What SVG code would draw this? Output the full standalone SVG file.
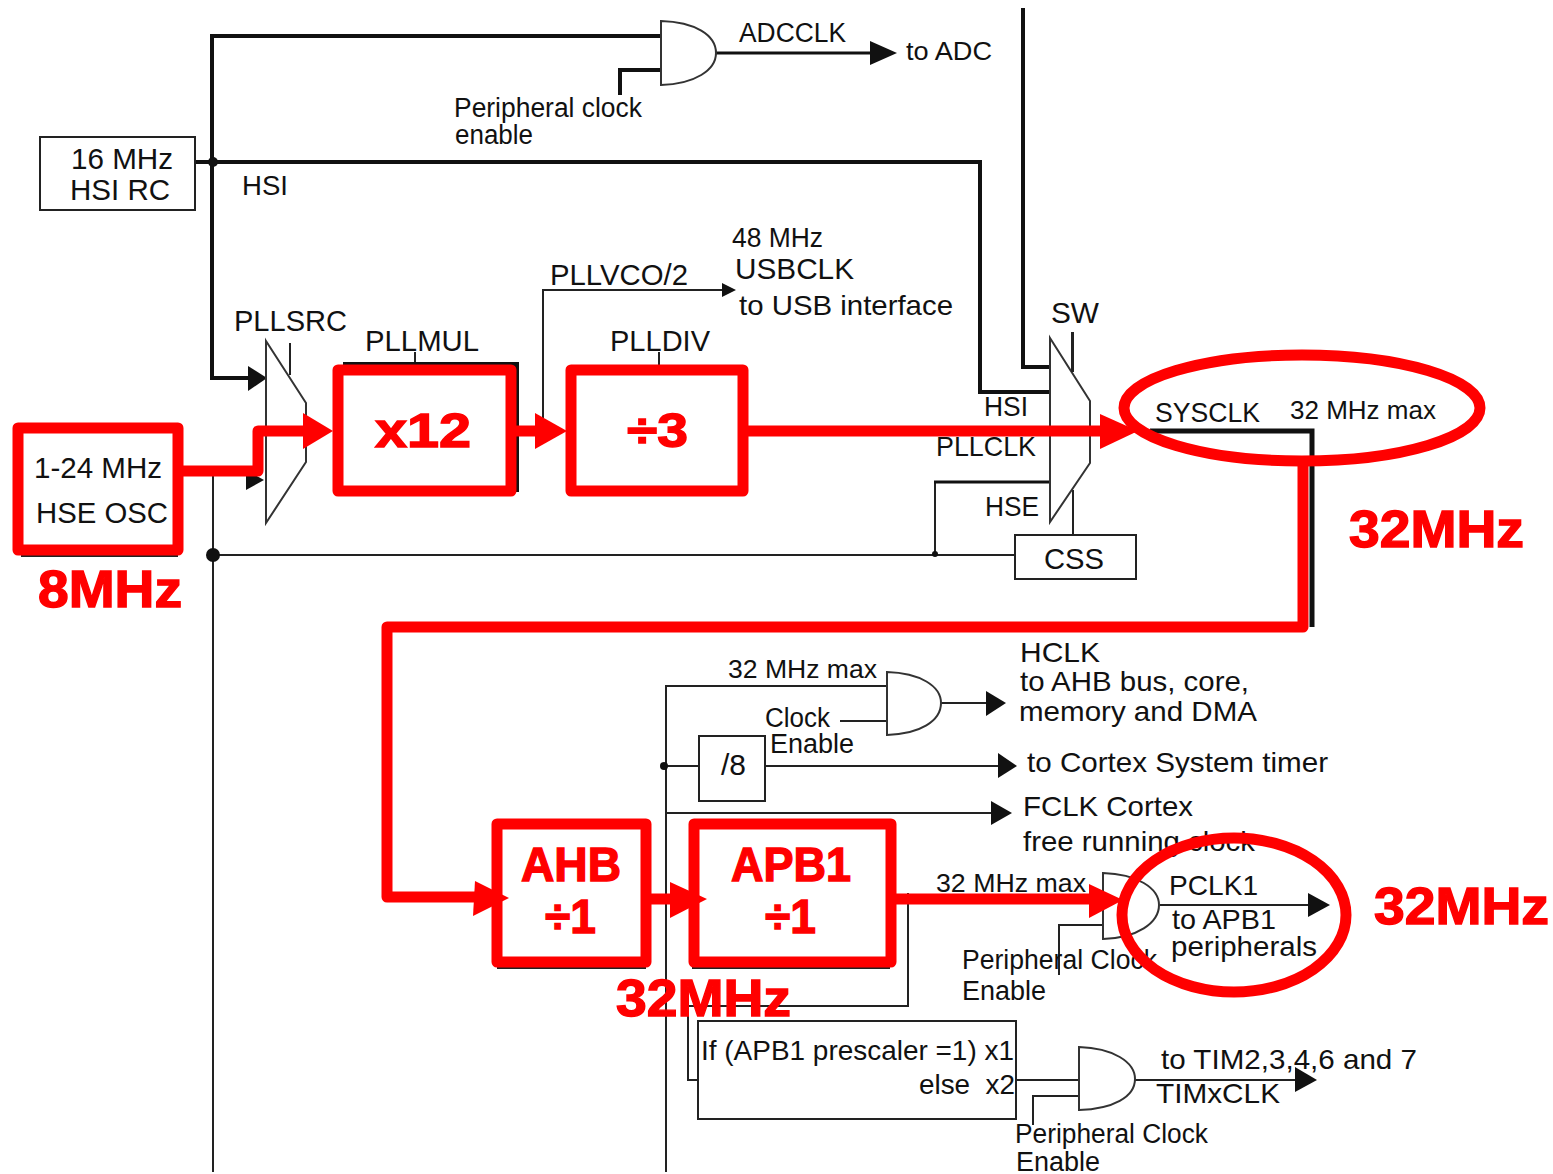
<svg xmlns="http://www.w3.org/2000/svg" width="1553" height="1174" viewBox="0 0 1553 1174">
<style>
text{font-family:"Liberation Sans",Arial,sans-serif;fill:#111;font-size:28px;white-space:pre}
.r{fill:#f00;font-weight:bold;font-size:52px;stroke:#f00;stroke-width:1.4}
.b{fill:#f00;font-weight:bold;font-size:48px;stroke:#f00;stroke-width:1.4}
.t{fill:none;stroke:#222;stroke-width:2}
.k{fill:none;stroke:#111;stroke-width:4}
.g{fill:#fff;stroke:#333;stroke-width:2}
.rl{fill:none;stroke:#f00;stroke-width:11;stroke-linejoin:round}
.rb{fill:#fff;stroke:#f00;stroke-width:11;stroke-linejoin:round}
.rh{fill:#f00}
.h{fill:#111}
</style>
<rect width="1553" height="1174" fill="#fff"/>
<g id="connectors">
<path class="k" d="M660 36H212V378H250"/>
<path class="k" d="M620 95V70H661"/>
<path class="k" d="M716 53H872" style="stroke-width:3"/>
<path class="k" d="M195 162H980V392H1051"/>
<path class="k" d="M1023 8V367H1052"/>
<path class="t" d="M213 470V1172"/>
<path class="t" d="M213 555H1015"/>
<path class="t" d="M935 554V482"/>
<path class="k" d="M934 482H1051" style="stroke-width:3"/>
<path class="t" d="M290 343V375"/>
<path class="t" d="M1073 332V372M1073 490V535"/>
<path class="k" d="M1150 431H1312V627" style="stroke-width:5"/>
<path class="t" d="M543 420V290H724"/>
<path class="t" d="M415 352V366M659 352V366"/>
<path class="k" d="M343 364H517V492"/>
<path class="t" d="M21 556H178"/>
<path class="t" d="M497 968H646M692 968H890"/>
<path class="t" d="M666 1172V686H887"/>
<path class="t" d="M941 703H988"/>
<path class="t" d="M840 721H887"/>
<path class="t" d="M664 766H699M765 766H1000"/>
<path class="t" d="M667 813H993"/>
<path class="t" d="M1160 905H1310"/>
<path class="t" d="M1059 975V925H1105"/>
<path class="t" d="M908 893V1006H688V1080H698"/>
<path class="t" d="M1016 1080H1080M1080 1096H1033V1125"/>
<path class="t" d="M1135 1080H1297"/>
<g id="black-arrowheads">
<path class="h" d="M248 366L267 378L248 391Z"/>
<path class="h" d="M246 470L264 480L246 490Z"/>
<path class="h" d="M870 41L897 53L870 65Z"/>
<path class="h" d="M722 283L736 290L722 297Z"/>
<path class="h" d="M986 691L1006 703L986 716Z"/>
<path class="h" d="M998 753L1017 766L998 778Z"/>
<path class="h" d="M991 801L1012 813L991 825Z"/>
<path class="h" d="M1308 893L1330 905L1308 917Z"/>
<path class="h" d="M1295 1067L1317 1080L1295 1092Z"/>
</g>
<circle class="h" cx="213" cy="162" r="5"/>
<circle class="h" cx="213" cy="555" r="7"/>
<circle class="h" cx="935" cy="554" r="3"/>
<circle class="h" cx="664" cy="766" r="4"/>
</g>
<g id="and-adc"><path class="g" d="M661 21C695 22 716 35 716 53C716 70 695 84 661 85Z"/>
<text x="739" y="42" textLength="107" lengthAdjust="spacingAndGlyphs" style="font-size:27px">ADCCLK</text>
<text x="906" y="60" textLength="86" lengthAdjust="spacingAndGlyphs" style="font-size:26px">to ADC</text>
<text x="454" y="117" textLength="188" lengthAdjust="spacingAndGlyphs" style="font-size:27px">Peripheral clock</text>
<text x="455" y="144" textLength="78" lengthAdjust="spacingAndGlyphs" style="font-size:27px">enable</text></g>
<g id="hsi-rc"><rect x="40" y="137" width="155" height="73" class="t"/>
<text x="71" y="169" textLength="102" lengthAdjust="spacingAndGlyphs" style="font-size:30px">16 MHz</text>
<text x="70" y="200" textLength="100" lengthAdjust="spacingAndGlyphs" style="font-size:30px">HSI RC</text>
<text x="242" y="195" textLength="46" lengthAdjust="spacingAndGlyphs" style="font-size:27px">HSI</text></g>
<g id="usb-labels">
<text x="732" y="247" textLength="91" lengthAdjust="spacingAndGlyphs" style="font-size:27px">48 MHz</text>
<text x="735" y="279" textLength="119" lengthAdjust="spacingAndGlyphs" style="font-size:30px">USBCLK</text>
<text x="739" y="315" textLength="214" lengthAdjust="spacingAndGlyphs">to USB interface</text>
<text x="550" y="285" textLength="138" lengthAdjust="spacingAndGlyphs" style="font-size:29px">PLLVCO/2</text></g>
<g id="pllsrc"><path class="g" d="M266 341L306 403V462L266 523Z"/>
<text x="234" y="331" textLength="113" lengthAdjust="spacingAndGlyphs" style="font-size:30px">PLLSRC</text></g>
<g id="sw"><path class="g" d="M1050 338L1090 401V463L1050 522Z"/>
<path class="t" d="M1072 332V372"/>
<text x="1051" y="323" textLength="48" lengthAdjust="spacingAndGlyphs" style="font-size:30px">SW</text>
<text x="984" y="416" textLength="44" lengthAdjust="spacingAndGlyphs" style="font-size:27px">HSI</text>
<text x="936" y="456" textLength="100" lengthAdjust="spacingAndGlyphs">PLLCLK</text>
<text x="985" y="516" textLength="54" lengthAdjust="spacingAndGlyphs" style="font-size:27px">HSE</text></g>
<g id="css"><rect x="1015" y="535" width="121" height="44" class="t"/>
<text x="1044" y="569" textLength="60" lengthAdjust="spacingAndGlyphs" style="font-size:30px">CSS</text></g>
<g id="hclk-gate"><path class="g" d="M887 672C920 673 941 686 941 703C941 721 920 734 887 735Z"/>
<text x="728" y="678" textLength="149" lengthAdjust="spacingAndGlyphs" style="font-size:26px">32 MHz max</text>
<text x="765" y="727" textLength="65" lengthAdjust="spacingAndGlyphs" style="font-size:27px">Clock</text>
<text x="770" y="753" textLength="84" lengthAdjust="spacingAndGlyphs" style="font-size:27px">Enable</text>
<text x="1020" y="662" textLength="80" lengthAdjust="spacingAndGlyphs">HCLK</text>
<text x="1020" y="691" textLength="229" lengthAdjust="spacingAndGlyphs">to AHB bus, core,</text>
<text x="1019" y="721" textLength="238" lengthAdjust="spacingAndGlyphs">memory and DMA</text></g>
<g id="div8"><rect x="699" y="736" width="66" height="65" class="t"/>
<text x="721" y="775" textLength="25" lengthAdjust="spacingAndGlyphs" style="font-size:29px">/8</text>
<text x="1027" y="772" textLength="301" lengthAdjust="spacingAndGlyphs">to Cortex System timer</text></g>
<g id="fclk">
<text x="1023" y="816" textLength="170" lengthAdjust="spacingAndGlyphs">FCLK Cortex</text>
<text x="1023" y="851" textLength="232" lengthAdjust="spacingAndGlyphs">free running clock</text></g>
<g id="pclk1-gate"><path class="g" d="M1103 873C1137 874 1159 888 1159 905C1159 923 1137 938 1103 939Z"/>
<text x="936" y="892" textLength="150" lengthAdjust="spacingAndGlyphs" style="font-size:26px">32 MHz max</text>
<text x="1169" y="895" textLength="89" lengthAdjust="spacingAndGlyphs">PCLK1</text>
<text x="1172" y="929" textLength="104" lengthAdjust="spacingAndGlyphs">to APB1</text>
<text x="1171" y="956" textLength="146" lengthAdjust="spacingAndGlyphs">peripherals</text>
<text x="962" y="969" textLength="195" lengthAdjust="spacingAndGlyphs" style="font-size:27px">Peripheral Clock</text>
<text x="962" y="1000" textLength="84" lengthAdjust="spacingAndGlyphs" style="font-size:27px">Enable</text></g>
<g id="tim-prescaler"><rect x="698" y="1021" width="318" height="98" class="t"/>
<text x="701" y="1060" textLength="313" lengthAdjust="spacingAndGlyphs">If (APB1 prescaler =1) x1</text>
<text x="919" y="1094" textLength="96" lengthAdjust="spacingAndGlyphs">else  x2</text></g>
<g id="tim-gate"><path class="g" d="M1079 1047C1113 1048 1135 1062 1135 1079C1135 1097 1113 1109 1079 1110Z"/>
<text x="1161" y="1069" textLength="256" lengthAdjust="spacingAndGlyphs">to TIM2,3,4,6 and 7</text>
<text x="1156" y="1103" textLength="124" lengthAdjust="spacingAndGlyphs">TIMxCLK</text>
<text x="1015" y="1143" textLength="193" lengthAdjust="spacingAndGlyphs" style="font-size:27px">Peripheral Clock</text>
<text x="1016" y="1171" textLength="84" lengthAdjust="spacingAndGlyphs" style="font-size:27px">Enable</text></g>
<g id="red-connectors">
<path class="rl" d="M183 471H258V431H305"/>
<path class="rl" d="M512 431H537"/>
<path class="rl" d="M743 431H1102"/>
<path class="rl" d="M1303 462V627H387V897H477"/>
<path class="rl" d="M646 899H672"/>
<path class="rl" d="M891 899H1090"/>
<path class="rh" d="M303 413L333 431L303 449Z"/>
<path class="rh" d="M535 413L567 431L535 449Z"/>
<path class="rh" d="M1100 414L1138 431L1100 449Z"/>
<path class="rh" d="M475 881L509 898L473 916Z"/>
<path class="rh" d="M670 882L707 899L670 918Z"/>
<path class="rh" d="M1089 884L1123 900L1089 918Z"/>
</g>
<g id="hse-osc"><rect x="18" y="428" width="160" height="122" class="rb"/>
<text x="34" y="478" textLength="128" lengthAdjust="spacingAndGlyphs" style="font-size:29px">1-24 MHz</text>
<text x="36" y="523" textLength="132" lengthAdjust="spacingAndGlyphs" style="font-size:29px">HSE OSC</text>
<text class="r" x="38" y="607" textLength="144" lengthAdjust="spacingAndGlyphs">8MHz</text></g>
<g id="pllmul"><rect x="338" y="370" width="173" height="121" class="rb"/>
<text class="b" x="375" y="447" textLength="96" lengthAdjust="spacingAndGlyphs">x12</text>
<text x="365" y="351" textLength="114" lengthAdjust="spacingAndGlyphs" style="font-size:30px">PLLMUL</text></g>
<g id="plldiv"><rect x="571" y="370" width="172" height="121" class="rb"/>
<text class="b" x="627" y="447" textLength="61" lengthAdjust="spacingAndGlyphs">÷3</text>
<text x="610" y="351" textLength="100" lengthAdjust="spacingAndGlyphs" style="font-size:30px">PLLDIV</text></g>
<g id="sysclk"><ellipse cx="1302" cy="408" rx="178" ry="53" class="rl"/>
<text x="1155" y="422" textLength="105" lengthAdjust="spacingAndGlyphs" style="font-size:27px">SYSCLK</text>
<text x="1290" y="419" textLength="146" lengthAdjust="spacingAndGlyphs" style="font-size:26px">32 MHz max</text>
<text class="r" x="1349" y="547" textLength="175" lengthAdjust="spacingAndGlyphs">32MHz</text></g>
<g id="ahb"><rect x="497" y="824" width="149" height="138" class="rb" style="fill:none"/>
<text class="b" x="521" y="881" textLength="100" lengthAdjust="spacingAndGlyphs">AHB</text>
<text class="b" x="545" y="933" textLength="51" lengthAdjust="spacingAndGlyphs">÷1</text></g>
<g id="apb1"><rect x="694" y="824" width="197" height="138" class="rb" style="fill:none"/>
<text class="b" x="731" y="881" textLength="120" lengthAdjust="spacingAndGlyphs">APB1</text>
<text class="b" x="765" y="933" textLength="51" lengthAdjust="spacingAndGlyphs">÷1</text>
<text class="r" x="616" y="1016" textLength="175" lengthAdjust="spacingAndGlyphs">32MHz</text></g>
<g id="pclk1-mark"><ellipse cx="1234" cy="915" rx="112" ry="77" class="rl"/>
<text class="r" x="1374" y="924" textLength="175" lengthAdjust="spacingAndGlyphs">32MHz</text></g>
</svg>
